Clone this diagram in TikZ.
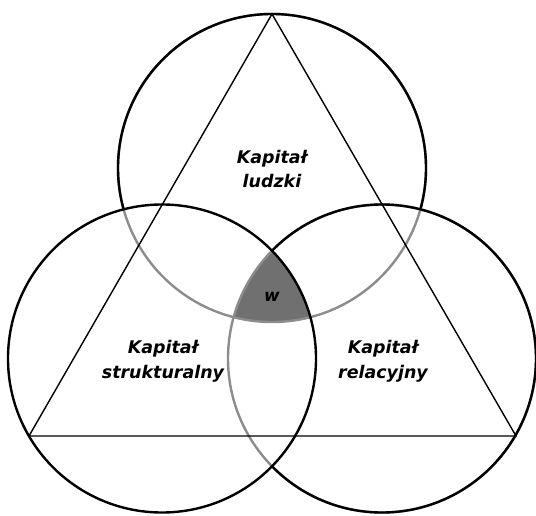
\documentclass[tikz,border=0pt]{standalone}
\usepackage{fontspec}
\setmainfont{DejaVu Sans}
\begin{document}
\begin{tikzpicture}[x=1bp,y=-1bp,
  ring/.style={line width=2.4bp},
  ringgray/.style={line width=2.4bp,draw=arcgray},
  edge/.style={line width=1.4bp},
  lbl/.style={font=\fontsize{17.5}{25}\selectfont\bfseries\itshape,align=center,inner sep=0pt},
  wlbl/.style={font=\fontsize{17}{19}\selectfont\bfseries\itshape,inner sep=0pt}]
\definecolor{arcgray}{RGB}{140,140,140}
\definecolor{coregray}{RGB}{112,112,112}
\useasboundingbox (0,0) rectangle (536,516);
\def\rr{154bp}
% circle centres and triangle corners
\coordinate (H) at (272,168);
\coordinate (S) at (162,358.5);
\coordinate (R) at (382,358.5);
\coordinate (tA) at (272,14);
\coordinate (tB) at (29,436);
\coordinate (tC) at (516,436);
% common part of the three circles
\begin{scope}
  \clip (H) circle[radius=\rr];
  \clip (S) circle[radius=\rr];
  \fill[coregray] (R) circle[radius=\rr];
\end{scope}
% upper circle: grey where it lies inside the lower ones
\draw[ringgray] (H) circle[radius=\rr];
\begin{scope}[even odd rule]
  \clip (-20,-20) rectangle (556,536) (S) circle[radius=\rr];
  \begin{scope}[even odd rule]
    \clip (-20,-20) rectangle (556,536) (R) circle[radius=\rr];
    \draw[ring] (H) circle[radius=\rr];
  \end{scope}
\end{scope}
% right circle: grey inside the left one
\draw[ringgray] (R) circle[radius=\rr];
\begin{scope}[even odd rule]
  \clip (-20,-20) rectangle (556,536) (S) circle[radius=\rr];
  \draw[ring] (R) circle[radius=\rr];
\end{scope}
% left circle
\draw[ring] (S) circle[radius=\rr];
% triangle
\draw[edge,line join=miter] (tA) -- (tB) -- (tC) -- cycle;
% labels
\node[lbl] (hum) at (272,169) {Kapitał\\ludzki};
\node[lbl] (str) at (163,361) {Kapitał\\strukturalny};
\node[lbl] (rel) at (383,361) {Kapitał\\relacyjny};
\node[wlbl] (w) at (272,297) {w};
\end{tikzpicture}
\end{document}
